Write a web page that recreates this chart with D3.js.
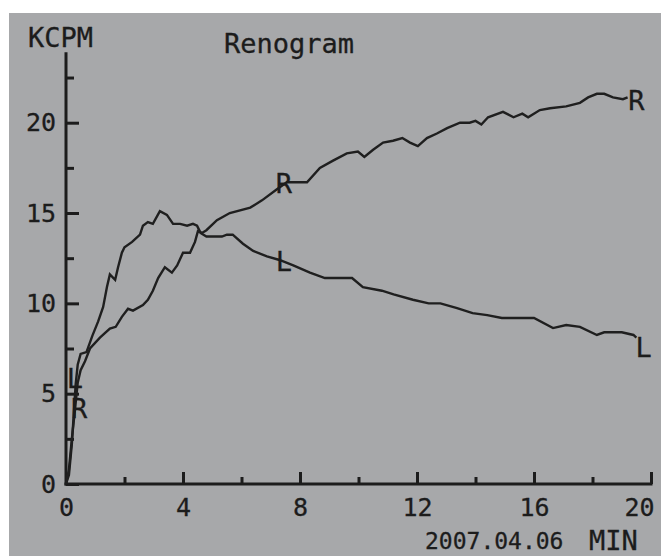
<!DOCTYPE html>
<html>
<head>
<meta charset="utf-8">
<title>Renogram</title>
<style>
  body { margin: 0; background: #fff; }
  text { font-family: "DejaVu Sans Mono", monospace; fill: #1c1c1c; stroke: #1c1c1c; stroke-width: 0.3; }
  .curve { fill: none; stroke: #1f1f1f; stroke-width: 2.4; stroke-linejoin: miter; }
  .axis line { stroke: #1c1c1c; stroke-width: 3; }
  .axis path { display: none; }
</style>
</head>
<body>
<svg id="chart" width="661" height="556"></svg>

<script src="https://cdn.jsdelivr.net/npm/d3@7/dist/d3.min.js"></script>
<script>
// left kidney (L)
var minutesL = [0, 0.1, 0.2, 0.27, 0.33, 0.4, 0.5, 0.7, 0.9, 1.1, 1.27, 1.4, 1.5, 1.68, 1.78, 1.91, 2.0,
  2.26, 2.53, 2.63, 2.8, 2.97, 3.21, 3.45, 3.66, 3.9, 4.14, 4.34, 4.48, 4.6, 4.8, 5.33, 5.5, 5.7,
  6.05, 6.4, 6.87, 7.3, 7.77, 8.34, 8.85, 9.78, 10.15, 10.8, 11.2, 11.86, 12.4, 12.8, 13.37, 13.9,
  14.4, 14.9, 16.0, 16.65, 17.1, 17.57, 18.15, 18.4, 19.0, 19.4, 19.5];
var countsL = [0, 0.5, 2.2, 4.0, 5.5, 6.6, 7.2, 7.3, 8.2, 9.0, 9.8, 10.9, 11.6, 11.3, 12.0, 12.8, 13.1,
  13.4, 13.8, 14.3, 14.5, 14.4, 15.1, 14.9, 14.4, 14.4, 14.3, 14.4, 14.3, 13.9, 13.7, 13.7, 13.8, 13.8,
  13.3, 12.9, 12.6, 12.4, 12.1, 11.7, 11.4, 11.4, 10.9, 10.7, 10.5, 10.2, 10.0, 10.0, 9.74, 9.46,
  9.35, 9.19, 9.19, 8.63, 8.8, 8.7, 8.25, 8.4, 8.4, 8.25, 8.1];

// right kidney (R)
var minutesR = [0, 0.1, 0.2, 0.3, 0.4, 0.5, 0.65, 0.82, 1.16, 1.5, 1.7, 1.91, 2.12, 2.29, 2.63, 2.8,
  2.97, 3.15, 3.38, 3.62, 3.8, 4.0, 4.24, 4.41, 4.51, 4.65, 4.8, 5.16, 5.6, 6.3, 6.7, 7.2, 7.55, 8.24,
  8.68, 9.13, 9.6, 9.98, 10.2, 10.5, 10.84, 11.18, 11.5, 11.76, 12.03, 12.34, 12.68, 13.03, 13.47,
  13.8, 14.0, 14.2, 14.43, 14.94, 15.3, 15.6, 15.8, 16.2, 16.55, 17.1, 17.57, 17.85, 18.15, 18.4,
  18.7, 19.04, 19.2];
var countsR = [0, 0.8, 2.5, 4.0, 5.6, 6.3, 6.8, 7.5, 8.1, 8.6, 8.7, 9.25, 9.7, 9.6, 9.9, 10.2,
  10.7, 11.4, 12.0, 11.7, 12.1, 12.8, 12.8, 13.4, 14.0, 13.9, 14.05, 14.6, 15.0, 15.3, 15.7, 16.3, 16.7, 16.7,
  17.5, 17.9, 18.3, 18.4, 18.1, 18.5, 18.9, 19.0, 19.15, 18.9, 18.7, 19.15, 19.4, 19.7, 20.0,
  20.0, 20.1, 19.9, 20.3, 20.6, 20.3, 20.5, 20.3, 20.7, 20.8, 20.9, 21.1, 21.4, 21.6, 21.6,
  21.4, 21.3, 21.4];

// curve letters: which curve, minute, KCPM level of the letter's top
var labelNames = ['L', 'R', 'R', 'L', 'R', 'L'];
var labelMinutes = [0.3, 0.45, 7.45, 7.45, 19.5, 19.75];
var labelLevels = [6.4, 4.75, 17.2, 12.9, 21.8, 8.1];

var xMajor = [0, 4, 8, 12, 16, 20];
var xMinor = [2, 6, 10, 14, 18];
var yMajor = [0, 5, 10, 15, 20];
var yMinor = [2.5, 7.5, 12.5, 17.5, 22.5];

var svg = d3.select('#chart');

// scanned grey paper
svg.append('rect')
  .attr('x', 9).attr('y', 13)
  .attr('width', 652).attr('height', 543)
  .attr('fill', '#a7a8aa');

var x = d3.scaleLinear().domain([0, 20]).range([66, 651]);
var y = d3.scaleLinear().domain([0, 20]).range([484, 122.7]);

// axis lines
svg.append('line')
  .attr('x1', x(0)).attr('x2', x(0))
  .attr('y1', y(0) + 1.5).attr('y2', y(23.9))
  .attr('stroke', '#1c1c1c').attr('stroke-width', 3);
svg.append('line')
  .attr('x1', x(0) - 1.5).attr('x2', x(20) + 1.5)
  .attr('y1', y(0)).attr('y2', y(0))
  .attr('stroke', '#1c1c1c').attr('stroke-width', 3);

// y ticks point inward (to the right), labels on the left
svg.append('g')
  .attr('class', 'axis')
  .attr('transform', 'translate(' + x(0) + ',0)')
  .call(d3.axisLeft(y).tickValues(yMajor).tickSizeInner(-13).tickSizeOuter(0).tickPadding(10))
  .selectAll('text')
  .style('font-size', '25px')
  .style('font-family', '"DejaVu Sans Mono", monospace')
  .attr('fill', '#1c1c1c');

svg.append('g')
  .attr('class', 'axis')
  .attr('transform', 'translate(' + x(0) + ',0)')
  .call(d3.axisLeft(y).tickValues(yMinor).tickSizeInner(-8).tickSizeOuter(0).tickFormat(''));

// x ticks point up, labels below
var gx = svg.append('g')
  .attr('class', 'axis')
  .attr('transform', 'translate(0,' + y(0) + ')')
  .call(d3.axisBottom(x).tickValues(xMajor).tickSizeInner(-12).tickSizeOuter(0).tickPadding(14));
gx.selectAll('text')
  .style('font-size', '25px')
  .style('font-family', '"DejaVu Sans Mono", monospace')
  .attr('fill', '#1c1c1c')
  .attr('dy', '0.71em');
gx.selectAll('.tick').filter(d => d === 20).select('text')
  .attr('text-anchor', 'end').attr('x', 3);
gx.selectAll('.tick').filter(d => d === 0).select('line').remove();

svg.append('g')
  .attr('class', 'axis')
  .attr('transform', 'translate(0,' + y(0) + ')')
  .call(d3.axisBottom(x).tickValues(xMinor).tickSizeInner(-7).tickSizeOuter(0).tickFormat(''));

// curves
var line = d3.line()
  .x(d => x(d[0]))
  .y(d => y(d[1]));

svg.append('path')
  .datum(d3.zip(minutesL, countsL))
  .attr('class', 'curve')
  .attr('d', line);

svg.append('path')
  .datum(d3.zip(minutesR, countsR))
  .attr('class', 'curve')
  .attr('d', line);

// curve letters
svg.selectAll('text.mark')
  .data(d3.zip(labelNames, labelMinutes, labelLevels))
  .enter()
  .append('text')
  .attr('class', 'mark')
  .attr('x', d => x(d[1]))
  .attr('y', d => y(d[2]))
  .attr('dy', '0.73em')
  .attr('text-anchor', 'middle')
  .style('font-size', '27px')
  .text(d => d[0]);

// titles
svg.append('text').attr('x', 28).attr('y', 47).style('font-size', '27px').text('KCPM');
svg.append('text').attr('x', 224).attr('y', 53).style('font-size', '27px').text('Renogram');
svg.append('text').attr('x', 589).attr('y', 550).style('font-size', '27px').text('MIN');
svg.append('text').attr('x', 425).attr('y', 549).style('font-size', '23px').text('2007.04.06');
</script>
</body>
</html>
